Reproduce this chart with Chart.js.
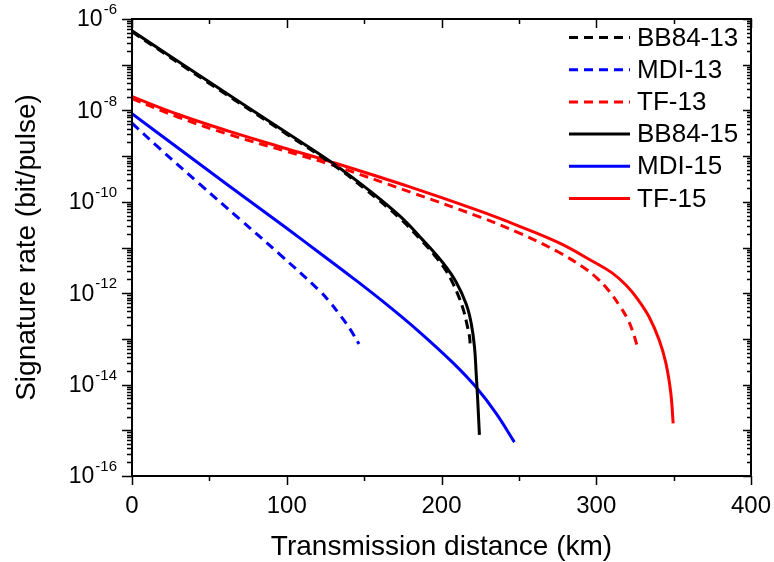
<!DOCTYPE html>
<html>
<head>
<meta charset="utf-8">
<script src="https://cdn.jsdelivr.net/npm/chart.js@4.4.1/dist/chart.umd.min.js"></script>
<style>
  body { margin: 0; background: #fff; }
  #wrap { width: 774px; height: 562px; }
</style>
</head>
<body>
<div id="wrap"><canvas id="chart" width="774" height="562"></canvas></div>
<script>
// distances (km) and signature rates (bit/pulse)
const bb84_13_km   = [0, 50, 100, 130, 151, 173, 188, 195.5, 202.6, 207.3, 211.2, 214.2, 216.3, 218.1, 218.6];
const bb84_13_rate = [5.25e-7, 3.89e-8, 3.02e-9, 6.46e-10, 1.86e-10, 4.37e-11, 1.32e-11, 6.76e-12, 3.24e-12, 1.66e-12, 8.32e-13, 4.27e-13, 2.19e-13, 1.12e-13, 6.61e-14];

const mdi_13_km   = [0, 18, 44, 70, 95.5, 121.3, 127.7, 134.2, 140.6, 146.7];
const mdi_13_rate = [5.25e-9, 1.45e-9, 2.40e-10, 4.07e-11, 7.08e-12, 1.12e-12, 6.46e-13, 3.39e-13, 1.70e-13, 7.76e-14];

const tf_13_km   = [0, 30, 63, 100, 128, 180, 224.5, 250, 276.1, 292.3, 300.8, 308.4, 314.8, 320.2, 323.4, 326.7];
const tf_13_rate = [1.82e-8, 7.08e-9, 2.95e-9, 1.26e-9, 6.61e-10, 1.62e-10, 4.68e-11, 2.09e-11, 7.76e-12, 3.55e-12, 2.09e-12, 1.10e-12, 5.50e-13, 2.75e-13, 1.51e-13, 6.61e-14];

const bb84_15_km   = [0, 50, 100, 130, 151, 173, 188, 201, 209.5, 216, 219.2, 221.3, 222.4, 223.4, 224.5];
const bb84_15_rate = [5.50e-7, 4.17e-8, 3.24e-9, 6.92e-10, 2.04e-10, 4.90e-11, 1.45e-11, 4.57e-12, 1.74e-12, 5.75e-13, 2.19e-13, 6.76e-14, 1.78e-14, 4.57e-15, 7.94e-16];

const mdi_15_km   = [0, 30, 63, 100, 121.3, 142.8, 164.3, 185.8, 207.3, 222.4, 235.3, 247.1];
const mdi_15_rate = [8.51e-9, 1.48e-9, 2.19e-10, 2.63e-11, 7.59e-12, 2.14e-12, 5.75e-13, 1.41e-13, 3.02e-14, 8.71e-15, 2.34e-15, 5.50e-16];

const tf_15_km   = [0, 30, 63, 100, 128, 180, 224.5, 250, 276, 297.6, 310, 319.2, 327, 334.2, 340.6, 345, 348.2, 349.7];
const tf_15_rate = [2.00e-8, 8.13e-9, 3.47e-9, 1.45e-9, 7.59e-10, 2.09e-10, 6.31e-11, 2.95e-11, 1.26e-11, 5.01e-12, 2.82e-12, 1.51e-12, 7.24e-13, 3.02e-13, 9.55e-14, 2.95e-14, 6.46e-15, 1.41e-15];

const xTicks = [0, 100, 200, 300, 400];
const yExponents = [-16, -14, -12, -10, -8, -6];

const FONT = "Arial, 'Liberation Sans', sans-serif";

function pts(xs, ys) {
  return xs.map((x, i) => ({ x: x, y: ys[i] }));
}

function line(label, xs, ys, color, dashed) {
  return {
    label: label,
    data: pts(xs, ys),
    borderColor: color,
    backgroundColor: color,
    borderWidth: 3,
    borderDash: dashed ? [9, 6] : [],
    pointRadius: 0,
    tension: 0.4,
    fill: false
  };
}

// ticks, frame, superscript labels, legend
const decorations = {
  id: "decorations",
  afterDraw(chart) {
    const ctx = chart.ctx;
    const a = chart.chartArea;
    const xs = chart.scales.x;
    const ys = chart.scales.y;
    ctx.save();
    ctx.strokeStyle = "#000";
    ctx.fillStyle = "#000";
    ctx.lineWidth = 2;
    ctx.strokeRect(a.left, a.top, a.right - a.left, a.bottom - a.top);

    ctx.lineWidth = 1.5;
    ctx.beginPath();
    // x ticks
    for (let v = 0; v <= 400; v += 50) {
      const px = Math.round(xs.getPixelForValue(v)) + 0.5;
      const len = v % 100 === 0 ? 9 : 5;
      ctx.moveTo(px, a.bottom); ctx.lineTo(px, a.bottom + len);
      ctx.moveTo(px, a.top); ctx.lineTo(px, a.top + len);
    }
    // y ticks
    for (let e = -16; e <= -6; e++) {
      const py = Math.round(ys.getPixelForValue(Math.pow(10, e))) + 0.5;
      ctx.moveTo(a.left, py); ctx.lineTo(a.left - 10, py);
      ctx.moveTo(a.right, py); ctx.lineTo(a.right - 8, py);
      if (e < -6) {
        for (let m = 2; m <= 9; m++) {
          const my = Math.round(ys.getPixelForValue(m * Math.pow(10, e))) + 0.5;
          ctx.moveTo(a.left, my); ctx.lineTo(a.left - 5, my);
          ctx.moveTo(a.right, my); ctx.lineTo(a.right - 4, my);
        }
      }
    }
    ctx.stroke();

    // y labels 10^n
    yExponents.forEach(e => {
      const py = ys.getPixelForValue(Math.pow(10, e));
      const sup = "-" + Math.abs(e);
      ctx.font = "15px " + FONT;
      const sw = ctx.measureText(sup).width;
      ctx.textAlign = "right";
      ctx.textBaseline = "middle";
      ctx.fillText(sup, 117, py - 9);
      ctx.font = "23px " + FONT;
      ctx.fillText("10", 117 - sw - 1, py + 1);
    });

    // legend
    const items = chart.data.datasets;
    items.forEach((ds, i) => {
      const y = 37.5 + i * 32.2;
      ctx.strokeStyle = ds.borderColor;
      ctx.lineWidth = 3;
      ctx.setLineDash(ds.borderDash);
      ctx.beginPath();
      ctx.moveTo(569, y); ctx.lineTo(630, y);
      ctx.stroke();
      ctx.setLineDash([]);
      ctx.fillStyle = "#000";
      ctx.font = "26px " + FONT;
      ctx.textAlign = "left";
      ctx.textBaseline = "middle";
      ctx.fillText(ds.label, 637, y + 1);
    });
    ctx.restore();
  }
};

new Chart(document.getElementById("chart"), {
  type: "line",
  data: {
    datasets: [
      line("BB84-13", bb84_13_km, bb84_13_rate, "#000000", true),
      line("MDI-13", mdi_13_km, mdi_13_rate, "#0000ff", true),
      line("TF-13", tf_13_km, tf_13_rate, "#ff0000", true),
      line("BB84-15", bb84_15_km, bb84_15_rate, "#000000", false),
      line("MDI-15", mdi_15_km, mdi_15_rate, "#0000ff", false),
      line("TF-15", tf_15_km, tf_15_rate, "#ff0000", false)
    ]
  },
  options: {
    responsive: false,
    animation: false,
    layout: { padding: { left: 0, right: 23, top: 19, bottom: 0 } },
    plugins: { legend: { display: false }, tooltip: { enabled: false } },
    scales: {
      x: {
        type: "linear",
        min: 0,
        max: 400,
        afterBuildTicks: s => { s.ticks = xTicks.map(v => ({ value: v })); },
        afterFit: s => { s.height = 86; s.paddingLeft = 0; s.paddingRight = 0; },
        grid: { display: false, drawTicks: false },
        border: { display: false },
        ticks: { font: { family: FONT, size: 24 }, color: "#000", padding: 16, maxRotation: 0 },
        title: {
          display: true,
          text: "Transmission distance (km)",
          font: { family: FONT, size: 28, lineHeight: 1 },
          color: "#000",
          padding: { top: 0, bottom: 1 }
        }
      },
      y: {
        type: "logarithmic",
        min: 1e-16,
        max: 1e-6,
        afterFit: s => { s.width = 132; s.paddingTop = 0; s.paddingBottom = 0; },
        grid: { display: false, drawTicks: false },
        border: { display: false },
        ticks: { display: false },
        title: {
          display: true,
          text: "Signature rate (bit/pulse)",
          font: { family: FONT, size: 28, lineHeight: 1 },
          color: "#000",
          padding: { top: 13, bottom: 0 }
        }
      }
    }
  },
  plugins: [decorations]
});
</script>
</body>
</html>
